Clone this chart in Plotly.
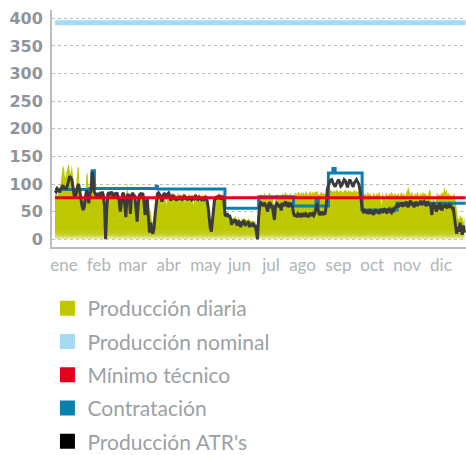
import plotly.graph_objects as go

# Month labels on the x axis (positions in day-of-year units)
meses = ["ene", "feb", "mar", "abr", "may", "jun", "jul", "ago", "sep", "oct", "nov", "dic"]
pos_meses = [8, 39, 69, 101, 134, 164, 192, 220, 252, 282, 313, 343]

# Producción diaria (daily production), one value per day, by month
diaria_ene = [80, 85, 78, 82, 88, 100, 120, 134, 128, 110, 120, 132, 137, 125, 118, 135,
              110, 90, 85, 100, 130, 131, 88, 80, 75, 70, 78, 85, 118, 120, 90]
diaria_feb = [85, 80, 92, 88, 82, 84, 80, 78, 85, 82, 80, 84, 78, 70, 30, 72, 84, 80, 86,
              82, 78, 84, 80, 85, 82, 80, 78, 72]
diaria_mar = [75, 82, 80, 70, 60, 104, 82, 78, 65, 80, 82, 80, 78, 70, 50, 72, 80, 82, 80,
              85, 78, 60, 75, 80, 60, 40, 55, 35, 30, 45, 65]
diaria_abr = [75, 82, 85, 80, 80, 72, 78, 84, 82, 60, 84, 85, 80, 70, 82, 84, 80, 82, 78,
              84, 80, 82, 80, 78, 82, 84, 65, 80, 78, 82]
diaria_may = [80, 78, 82, 60, 80, 84, 80, 78, 82, 80, 78, 82, 76, 80, 82, 70, 55, 35, 25,
              20, 40, 72, 80, 78, 82, 80, 84, 78, 80, 82, 78]
diaria_jun = [52, 48, 50, 46, 44, 42, 35, 40, 38, 42, 38, 34, 40, 36, 32, 38, 35, 40, 33,
              36, 34, 38, 30, 35, 32, 36, 30, 34, 25, 10]
diaria_jul = [60, 78, 82, 80, 76, 84, 80, 75, 70, 82, 85, 78, 80, 70, 55, 78, 82, 80, 76,
              82, 72, 84, 80, 82, 86, 80, 82, 78, 84, 80, 78]
diaria_ago = [78, 82, 85, 80, 86, 84, 80, 86, 82, 85, 80, 88, 84, 80, 84, 88, 82, 86, 83,
              87, 85, 88, 82, 80, 84, 86, 82, 85, 80, 84, 88]
diaria_sep = [88, 86, 90, 87, 85, 89, 86, 88, 90, 85, 87, 89, 86, 84, 88, 90, 87, 85, 89,
              86, 88, 84, 87, 90, 86, 88, 85, 87, 82, 80]
diaria_oct = [82, 85, 80, 84, 78, 86, 82, 80, 84, 70, 85, 82, 78, 84, 80, 86, 82, 60, 84,
              80, 72, 85, 82, 78, 84, 80, 86, 82, 79, 84, 80]
diaria_nov = [80, 84, 78, 82, 86, 80, 84, 78, 82, 88, 95, 84, 80, 86, 82, 78, 84, 80, 86,
              82, 78, 84, 80, 86, 82, 84, 80, 78, 84, 92]
diaria_dic = [84, 60, 80, 76, 55, 80, 84, 78, 82, 80, 86, 82, 95, 84, 90, 80, 84, 78, 82,
              75, 80, 84, 72, 50, 40, 35, 45, 38, 42, 30, 40]

# Producción ATR's (daily), by month
atr_ene = [88, 86, 92, 90, 85, 90, 94, 98, 92, 95, 90, 96, 105, 114, 112, 108, 95, 80, 77,
           83, 95, 100, 88, 70, 60, 53, 58, 75, 88, 85, 65]
atr_feb = [82, 88, 122, 110, 85, 80, 78, 84, 76, 82, 80, 86, 79, 60, 0, 55, 82, 85, 80, 86,
           83, 78, 84, 81, 85, 76, 70, 50]
atr_mar = [68, 82, 84, 62, 40, 78, 82, 76, 46, 80, 84, 80, 78, 55, 32, 65, 80, 82, 79, 84,
           70, 44, 60, 75, 40, 12, 30, 15, 10, 20, 45]
atr_abr = [70, 82, 84, 80, 78, 68, 74, 84, 80, 76, 82, 84, 79, 70, 78, 80, 72, 74, 70, 76,
           72, 78, 73, 72, 76, 80, 72, 74, 71, 77]
atr_may = [74, 72, 78, 71, 75, 80, 73, 72, 76, 74, 72, 75, 70, 74, 78, 72, 60, 40, 20, 14,
           35, 68, 76, 72, 78, 74, 80, 72, 76, 78, 72]
atr_jun = [45, 42, 47, 40, 44, 38, 26, 35, 30, 36, 30, 25, 34, 28, 22, 32, 27, 35, 24, 30,
           26, 33, 22, 28, 24, 30, 22, 26, 12, 0]
atr_jul = [40, 62, 66, 64, 60, 66, 62, 58, 50, 64, 67, 60, 62, 48, 35, 60, 65, 63, 58, 64,
           52, 66, 60, 65, 68, 62, 64, 58, 66, 62, 60]
atr_ago = [47, 42, 45, 40, 46, 44, 40, 47, 43, 45, 41, 46, 44, 40, 45, 48, 42, 46, 43, 47,
           58, 66, 52, 44, 46, 50, 44, 47, 45, 60, 90]
atr_sep = [100, 104, 107, 108, 102, 97, 95, 100, 106, 108, 103, 96, 98, 104, 108, 106, 97,
           94, 102, 108, 104, 98, 95, 102, 106, 108, 104, 100, 90, 70]
atr_oct = [55, 50, 52, 48, 53, 46, 50, 54, 46, 52, 44, 50, 54, 48, 52, 46, 50, 55, 48, 52,
           56, 50, 47, 53, 55, 50, 48, 54, 52, 57, 60]
atr_nov = [62, 58, 64, 60, 66, 62, 65, 60, 68, 64, 58, 66, 70, 62, 66, 58, 64, 68, 60, 66,
           63, 70, 62, 66, 68, 64, 60, 68, 64, 62]
atr_dic = [60, 44, 66, 62, 58, 50, 62, 54, 66, 60, 52, 62, 58, 64, 56, 60, 62, 57, 60, 56,
           58, 40, 20, 10, 22, 14, 30, 18, 8, 25, 12]

# Contratación (contracted volume): step changes by day
contr_dias = [0, 31, 33, 35, 90, 91, 151, 181, 212, 232, 234, 243, 247, 249, 273, 304, 365]
contr_vals = [90, 92, 124, 92, 96, 91, 56, 77, 60, 74, 60, 120, 128, 120, 53, 65, 65]

# Constant reference levels
nominal = 392
minimo_tecnico = 75

diaria = (diaria_ene + diaria_feb + diaria_mar + diaria_abr + diaria_may + diaria_jun +
          diaria_jul + diaria_ago + diaria_sep + diaria_oct + diaria_nov + diaria_dic)
atr = (atr_ene + atr_feb + atr_mar + atr_abr + atr_may + atr_jun +
       atr_jul + atr_ago + atr_sep + atr_oct + atr_nov + atr_dic)
dias = list(range(len(diaria)))
dias_atr = list(range(len(atr)))

C_VERDE = "#bec800"
C_NOMINAL = "#a5daf3"
C_ROJO = "#e2001a"
C_AZUL = "#0a7fb0"
C_ATR = "#3b3b3b"

fig = go.Figure()

fig.add_trace(go.Scatter(
    x=dias, y=diaria, mode="lines", fill="tozeroy",
    line=dict(width=0, color=C_VERDE),
    fillgradient=dict(type="vertical", start=0, stop=140,
                      colorscale=[[0, "#eef1c4"], [0.06, "#c6ce2a"], [0.13, C_VERDE],
                                  [1, C_VERDE]]),
    showlegend=False, hoverinfo="skip"))

fig.add_trace(go.Scatter(
    x=[dias[0], dias[-1] + 1], y=[nominal, nominal], mode="lines",
    line=dict(width=5, color=C_NOMINAL), showlegend=False))

fig.add_trace(go.Scatter(
    x=contr_dias, y=contr_vals, mode="lines", line_shape="hv",
    line=dict(width=3, color=C_AZUL), showlegend=False))

fig.add_trace(go.Scatter(
    x=dias_atr, y=atr, mode="lines",
    line=dict(width=3, color=C_ATR), showlegend=False))

fig.add_trace(go.Scatter(
    x=[dias[0], dias[-1] + 1], y=[minimo_tecnico, minimo_tecnico], mode="lines",
    line=dict(width=3, color=C_ROJO), showlegend=False))

# Legend entries as square swatches
leyenda = [("Producción diaria", C_VERDE),
           ("Producción nominal", C_NOMINAL),
           ("Mínimo técnico", C_ROJO),
           ("Contratación", C_AZUL),
           ("Producción ATR's", "#000000")]
for i, (nombre, color) in enumerate(leyenda):
    fig.add_trace(go.Scatter(
        x=[None], y=[None], mode="markers", name=nombre, legendgroup=f"g{i}",
        marker=dict(symbol="square", size=15, color=color, line=dict(width=0))))

fig.update_layout(
    width=466, height=455,
    margin=dict(l=52, r=0, t=10, b=208, autoexpand=False),
    paper_bgcolor="white", plot_bgcolor="white",
    showlegend=True,
    legend=dict(orientation="v", x=-0.011, xanchor="left", y=-0.173, yanchor="top",
                traceorder="grouped", tracegroupgap=3.0,
                font=dict(family="Lato", size=21, color="#9ba1a5"),
                bgcolor="rgba(0,0,0,0)"),
    xaxis=dict(range=[-2.67, 365.3], tickvals=pos_meses, ticktext=meses,
               showgrid=False, zeroline=False, showline=True,
               linecolor="#b9bdc0", linewidth=2, ticks="", ticklabelstandoff=2,
               tickfont=dict(family="Lato", size=17, color="#b0b5b9")),
    yaxis=dict(range=[-14, 415], tickvals=list(range(0, 401, 50)),
               showgrid=True, gridcolor="#bcbcbc", griddash="dot", gridwidth=1,
               zeroline=False, showline=True, linecolor="#b9bdc0", linewidth=2,
               ticks="", ticklabelstandoff=4,
               tickfont=dict(family="DejaVu Sans", size=16, color="#8f959a", weight="bold")),
)

fig.write_html("out.html")
